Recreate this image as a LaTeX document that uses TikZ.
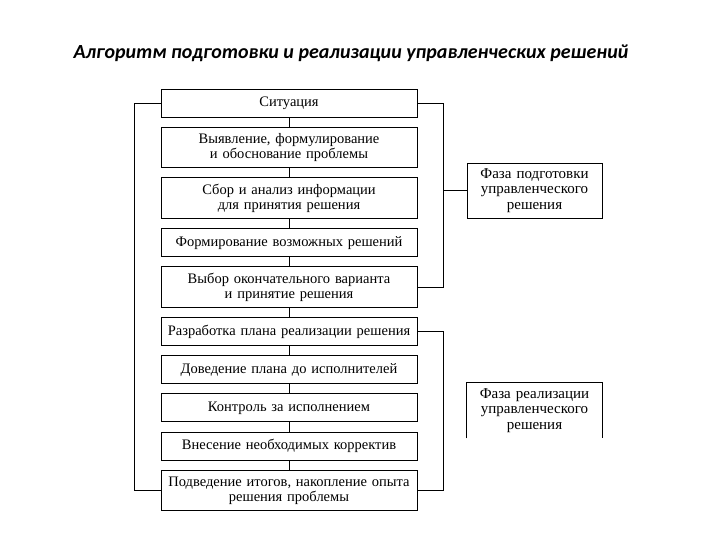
\documentclass[tikz,border=0pt]{standalone}
\usepackage{fontspec}
\setmainfont{Liberation Serif}
\newfontfamily\titlefont{Carlito}
\usetikzlibrary{positioning}

\begin{document}
\begin{tikzpicture}[x=1pt,y=-1pt,node distance=9.3pt,line width=0.9pt,
  stepbox/.style={draw,text width=248pt,align=center,inner xsep=4pt,inner ysep=0pt,
    font=\fontsize{14.5}{15}\selectfont},
  one/.style={stepbox,minimum height=28pt},
  two/.style={stepbox,minimum height=40.5pt},
  phase/.style={text width=127pt,align=center,inner xsep=4pt,inner ysep=0pt,
    minimum height=55pt,font=\fontsize{15}{15.5}\selectfont}]
  \useasboundingbox (0,0) rectangle (720,540);
  \node[anchor=base,font=\titlefont\bfseries\itshape\fontsize{20}{22}\selectfont] (title) at (351,59)
    {Алгоритм подготовки и реализации управленческих решений};
  % steps
  \node[one]               (sit)   at (289,103) {Ситуация};
  \node[two,below=of sit]  (vyyav) {Выявление, формулирование\\ и обоснование проблемы};
  \node[two,below=of vyyav](sbor)  {Сбор и анализ информации\\ для принятия решения};
  \node[one,below=of sbor] (form)  {Формирование возможных решений};
  \node[two,below=of form] (vybor) {Выбор окончательного варианта\\ и принятие решения};
  \node[one,below=of vybor](razr)  {Разработка плана реализации решения};
  \node[one,below=of razr] (dov)   {Доведение плана до исполнителей};
  \node[one,below=of dov]  (kontr) {Контроль за исполнением};
  \node[one,below=of kontr](vnes)  {Внесение необходимых корректив};
  \node[two,below=of vnes] (itog)  {Подведение итогов, накопление опыта\\ решения проблемы};
  \foreach \a/\b in {sit/vyyav,vyyav/sbor,sbor/form,form/vybor,vybor/razr,
                     razr/dov,dov/kontr,kontr/vnes,vnes/itog}
    \draw (\a) -- (\b);
  % phases
  \node[phase,draw] (podg) at (534.5,190.5) {Фаза подготовки\\ управленческого\\ решения};
  \node[phase]      (real) at (534.5,410.5) {Фаза реализации\\ управленческого\\ решения};
  \draw (real.south west) -- (real.north west) -- (real.north east) -- (real.south east);
  % brackets
  \draw (sit.west) -- ++(-26,0) |- (itog.west);
  \draw (sit.east) -- ++(26,0) |- (vybor.east);
  \draw (podg.west) -- ++(-24,0);
  \draw (razr.east) -- ++(26,0) |- (itog.east);
\end{tikzpicture}
\end{document}
